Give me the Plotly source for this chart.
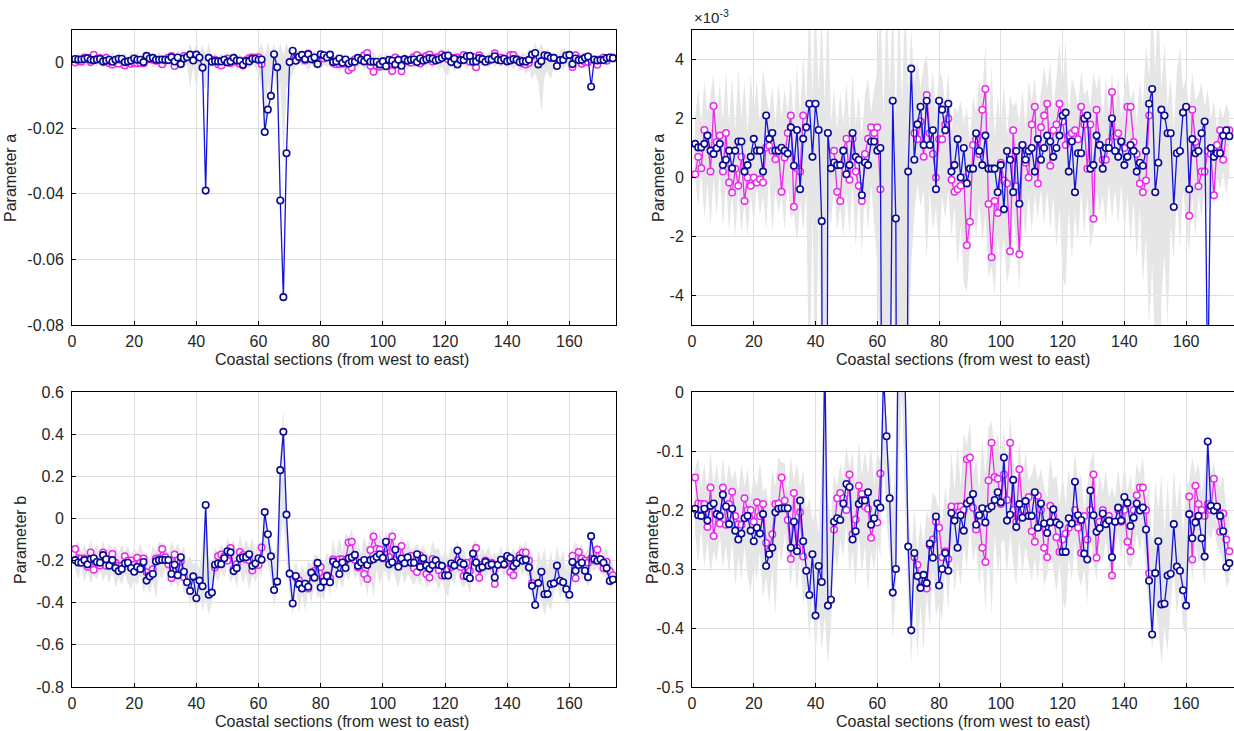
import plotly.graph_objects as go

# coastal sections 1..174
sections = list(range(1, 175))
N = None

# parameter a, in units of 1e-3
a_blue_e3 = [
    1.14, 1.02, 1.02, 1.14, 1.42, 0.91, 0.80, 0.99, 1.14, 0.42,
    0.60, 0.91, 0.31, 0.91, 1.22, 1.22, 0.20, 0.42, 0.70, 1.31,
    0.91, 0.91, 0.20, 2.10, 1.31, 1.51, 0.91, 0.91, 1.01, 0.91,
    0.81, 1.70, 0.40, 1.61, -0.40, 1.31, 1.70, 2.50, 0.70, 2.50,
    1.61, -1.48, -39.0, 1.51, 0.31, 0.51, 0.42, 0.42, 0.91, 0.11,
    0.42, 1.51, 0.70, 0.60, -0.60, 0.51, 0.42, 1.22, 1.22, 0.91,
    1.00, -21.1, -14.3, -10.1, 2.60, -1.39, -42.0, -71.5, -27.6, 0.20,
    3.69, 0.60, 1.80, 2.40, 1.10, 2.60, 1.10, 1.60, -0.40, 2.60,
    2.30, 1.60, 2.50, 0.20, 0.42, 1.30, 0.00, 1.00, -0.20, 0.30,
    0.30, 1.50, 0.90, 0.42, 1.42, 0.30, 0.30, 0.30, -0.50, 0.42,
    -1.08, 0.90, 0.60, -0.50, 0.90, -0.89, 1.10, 0.60, 0.90, 1.00,
    0.20, 1.30, 0.60, 1.00, 1.42, 1.22, 0.70, 1.00, 1.42, 2.10,
    2.20, 0.20, 1.22, -0.50, 0.82, 0.82, 2.00, 2.10, 0.30, 0.42,
    1.42, 1.10, 0.30, 1.00, 1.00, 2.00, 0.90, 0.70, 1.22, 0.42,
    0.70, 1.10, 0.90, 0.20, 0.50, 0.40, 0.90, 2.50, 3.00, -0.50,
    0.50, 2.30, 2.10, 1.50, 1.50, -1.00, 0.82, 0.90, 2.20, 2.40,
    -0.40, 1.30, 0.82, 0.90, 1.50, 1.90, -7.30, 1.00, 0.70, 0.82,
    0.82, 1.42, 1.60, 1.40,
]
a_magenta_e3 = [
    0.11, 0.70, 0.31, 1.61, 1.42, 0.20, 2.42, 1.20, 1.42, 0.20,
    1.51, -0.17, -0.51, 0.30, -0.28, 0.70, -0.80, 0.00, -0.28, 0.00,
    -0.17, -0.06, -0.17, 1.02, 1.08, 0.91, 0.62, 0.91, -0.48, 0.68,
    1.51, 2.10, -0.99, 0.31, 0.20, 2.10, N, N, N, N,
    N, N, N, N, N, 0.91, -0.48, -0.80, 0.91, 1.31,
    -0.08, 1.31, 0.20, -0.28, -0.80, 0.80, 1.31, 1.70, 1.51, 1.70,
    -0.40, N, N, N, N, N, N, N, N, N,
    N, 1.50, 1.30, 1.90, 0.70, 2.80, 1.50, 0.80, 0.00, 1.30,
    1.30, 1.80, 2.00, -0.08, -0.48, -0.40, -0.28, 0.00, -2.30, -1.50,
    1.10, 1.30, 0.80, 2.30, 3.00, -0.90, -2.70, -0.80, -1.20, 0.50,
    -0.10, -0.20, -2.50, 1.60, -0.30, -2.60, 1.10, 0.50, 0.00, 1.80,
    2.40, -0.20, 1.70, 2.10, 2.50, 0.40, 1.60, 1.80, 2.50, 1.90,
    1.10, 1.42, 1.50, 1.60, 1.30, 2.40, 1.80, 0.30, 1.80, -1.40,
    2.30, 1.10, 0.60, 0.60, 1.20, 2.90, 1.40, 1.50, 1.20, 1.00,
    2.40, 2.40, 1.20, 0.80, -0.20, -0.50, -0.10, 2.10, N, N,
    N, N, N, N, N, N, N, N, N, N,
    -1.30, 2.30, 1.20, -0.30, 0.20, 0.20, 0.90, 0.80, -0.60, 1.10,
    1.60, 0.60, 1.50, 1.60,
]
a_band_hi_e3 = [
    2.0, 3.0, 1.8, 3.3, 2.2, 2.9, 3.5, 2.0, 3.2, 1.9,
    3.6, 1.8, 3.4, 1.6, 3.7, 2.0, 3.3, 1.5, 3.5, 2.2,
    3.3, 1.8, 3.7, 2.8, 2.2, 3.1, 1.8, 3.2, 2.0, 3.0,
    2.2, 3.4, 1.8, 3.8, 2.0, 4.2, 2.4, 6.0, 2.8, 6.0,
    3.0, 5.5, 2.5, 6.0, 1.8, 3.0, 1.6, 2.9, 1.8, 3.2,
    1.6, 3.5, 1.8, 2.8, 1.4, 2.8, 3.4, 2.2, 3.0, 3.6,
    6.0, 2.0, 6.0, 3.0, 6.0, 2.0, 6.0, 2.5, 6.0, 3.0,
    5.0, 3.2, 4.0, 3.0, 3.8, 4.2, 2.6, 3.6, 2.2, 3.6,
    3.4, 2.4, 3.6, 1.6, 2.4, 2.2, 2.6, 1.8, 2.4, 1.2,
    2.8, 2.2, 3.3, 2.8, 4.5, 1.6, 3.8, 1.4, 2.8, 1.6,
    3.2, 1.4, 2.8, 2.4, 2.6, 1.8, 3.0, 1.6, 3.3, 2.6,
    3.4, 2.0, 3.0, 3.8, 3.0, 3.9, 2.2, 3.4, 4.6, 3.0,
    4.7, 2.0, 3.4, 3.0, 2.4, 3.6, 2.8, 3.0, 2.4, 3.6,
    3.0, 3.5, 2.0, 3.4, 2.2, 3.6, 2.2, 3.4, 2.0, 3.0,
    3.6, 2.6, 3.0, 1.8, 3.3, 2.4, 4.5, 3.4, 6.0, 3.6,
    6.0, 3.0, 4.6, 2.4, 3.4, 1.6, 3.6, 4.4, 3.0, 3.4,
    2.2, 3.6, 2.6, 2.8, 3.2, 2.4, 3.0, 2.0, 2.6, 1.6,
    2.4, 2.0, 2.5, 2.2,
]
a_band_lo_e3 = [
    0.0, -1.0, 0.2, -1.4, -0.2, -1.6, 0.0, -1.3, 0.3, -1.7,
    -0.2, -1.8, -0.6, -2.0, -0.4, -1.9, -0.8, -2.0, -0.5, -1.6,
    -0.2, -1.3, -0.6, -1.8, 0.2, -1.9, -0.4, -1.2, -0.6, -1.8,
    -0.2, -1.4, -1.2, -2.2, -0.8, -1.8, -0.5, -8.0, -1.0, -8.0,
    -1.0, -7.0, -8.0, -1.0, -1.6, -0.2, -1.8, -1.0, -2.0, -0.5,
    -1.9, -0.2, -2.4, -0.6, -2.6, -0.4, -1.8, -0.2, -1.6, -3.0,
    -8.0, -22.0, -6.0, -12.0, -3.0, -10.0, -6.0, -30.0, -8.0, -6.0,
    -3.0, -1.2, -0.2, -1.0, -0.4, -2.8, -0.4, -1.8, -1.0, -2.4,
    -0.6, -1.4, -0.4, -2.0, -1.0, -3.0, -1.6, -3.6, -3.9, -2.4,
    -1.0, -2.0, -0.8, -2.2, -1.2, -3.4, -3.0, -4.0, -2.0, -3.0,
    -2.0, -3.6, -3.0, -1.2, -2.2, -3.8, -1.0, -2.0, -0.6, -1.8,
    -0.6, -1.4, -0.4, -1.6, -0.4, -1.8, -0.6, -2.4, -1.0, -3.4,
    -3.7, -1.0, -2.8, -1.2, -2.2, -0.4, -2.0, -0.6, -2.4, -1.8,
    -0.4, -1.2, -0.6, -1.6, -0.2, -1.4, -0.4, -1.6, -0.2, -1.8,
    -0.6, -2.2, -0.8, -2.8, -1.0, -3.6, -2.0, -5.0, -3.0, -6.0,
    -15.0, -4.0, -2.6, -5.0, -1.6, -2.8, -0.6, -2.4, -0.4, -1.4,
    -2.6, -0.6, -2.0, -0.6, -1.4, -0.2, -1.2, -0.2, -1.0, 0.0,
    -0.4, 0.2, -0.6, 0.2,
]

# parameter b
b_blue = [
    -0.198, -0.209, -0.210, -0.198, -0.218, -0.193, -0.189, -0.207, -0.210, -0.174,
    -0.194, -0.224, -0.198, -0.235, -0.250, -0.240, -0.214, -0.210, -0.235, -0.253,
    -0.230, -0.240, -0.207, -0.295, -0.275, -0.264, -0.204, -0.198, -0.197, -0.197,
    -0.197, -0.264, -0.220, -0.270, -0.184, -0.253, -0.303, -0.344, -0.275, -0.379,
    -0.295, -0.322, 0.064, -0.362, -0.352, -0.220, -0.214, -0.217, -0.189, -0.156,
    -0.161, -0.250, -0.236, -0.190, -0.184, -0.184, -0.170, -0.225, -0.214, -0.189,
    -0.196, 0.030, -0.075, -0.180, -0.340, -0.300, 0.229, 0.411, 0.018, -0.262,
    -0.404, -0.273, -0.312, -0.332, -0.310, -0.324, -0.257, -0.281, -0.211, -0.328,
    -0.300, -0.273, -0.303, -0.205, -0.218, -0.264, -0.209, -0.235, -0.189, -0.184,
    -0.173, -0.225, -0.209, -0.197, -0.221, -0.198, -0.194, -0.183, -0.170, -0.187,
    -0.111, -0.218, -0.208, -0.149, -0.229, -0.190, -0.213, -0.185, -0.210, -0.210,
    -0.170, -0.230, -0.189, -0.223, -0.239, -0.221, -0.199, -0.221, -0.225, -0.271,
    -0.271, -0.214, -0.223, -0.152, -0.209, -0.217, -0.274, -0.284, -0.167, -0.209,
    -0.237, -0.231, -0.206, -0.224, -0.218, -0.280, -0.220, -0.196, -0.218, -0.178,
    -0.188, -0.227, -0.213, -0.189, -0.201, -0.196, -0.233, -0.320, -0.411, -0.307,
    -0.253, -0.360, -0.359, -0.311, -0.308, -0.224, -0.296, -0.303, -0.336, -0.362,
    -0.207, -0.248, -0.221, -0.210, -0.248, -0.279, -0.084, -0.193, -0.201, -0.194,
    -0.210, -0.236, -0.297, -0.290,
]
b_magenta = [
    -0.145, -0.189, -0.190, -0.190, -0.229, -0.162, -0.244, -0.207, -0.223, -0.162,
    -0.225, -0.190, -0.169, -0.210, -0.224, -0.225, -0.180, -0.200, -0.200, -0.220,
    -0.187, -0.210, -0.190, -0.256, -0.270, -0.241, -0.190, -0.189, -0.145, -0.184,
    -0.217, -0.283, -0.171, -0.264, -0.204, -0.279, N, N, N, N,
    N, N, N, N, N, -0.233, -0.180, -0.171, -0.180, -0.200,
    -0.140, -0.241, -0.216, -0.159, -0.173, -0.194, -0.198, -0.247, -0.220, -0.221,
    -0.138, N, N, N, N, N, N, N, N, N,
    N, -0.280, -0.293, -0.330, -0.310, -0.333, -0.260, -0.250, -0.220, -0.230,
    -0.280, -0.270, -0.283, -0.194, -0.210, -0.194, -0.194, -0.200, -0.114, -0.111,
    -0.196, -0.233, -0.220, -0.264, -0.288, -0.150, -0.086, -0.144, -0.147, -0.190,
    -0.140, -0.183, -0.086, -0.200, -0.220, -0.131, -0.200, -0.190, -0.178, -0.236,
    -0.254, -0.176, -0.200, -0.264, -0.280, -0.193, -0.210, -0.246, -0.271, -0.250,
    -0.240, -0.230, -0.220, -0.200, -0.230, -0.273, -0.210, -0.250, -0.200, -0.140,
    -0.281, -0.220, -0.200, -0.215, -0.210, -0.311, -0.220, -0.200, -0.220, -0.200,
    -0.254, -0.270, -0.200, -0.175, -0.162, -0.162, -0.200, -0.307, N, N,
    N, N, N, N, N, N, N, N, N, N,
    -0.177, -0.284, -0.159, -0.190, -0.200, -0.210, -0.190, -0.200, -0.147, -0.200,
    -0.237, -0.206, -0.250, -0.270,
]
b_band_hi = [
    -0.13, -0.11, -0.16, -0.12, -0.17, -0.10, -0.16, -0.12, -0.17, -0.11,
    -0.16, -0.12, -0.15, -0.13, -0.17, -0.12, -0.16, -0.13, -0.18, -0.14,
    -0.16, -0.12, -0.17, -0.16, -0.20, -0.13, -0.16, -0.11, -0.12, -0.12,
    -0.17, -0.11, -0.15, -0.12, -0.16, -0.13, -0.20, -0.18, -0.22, -0.20,
    -0.24, -0.12, 0.10, -0.18, -0.22, -0.14, -0.16, -0.12, -0.15, -0.09,
    -0.13, -0.10, -0.17, -0.08, -0.14, -0.10, -0.14, -0.09, -0.16, -0.10,
    -0.12, 0.06, -0.06, -0.12, -0.20, -0.10, 0.30, 0.52, 0.10, -0.20,
    -0.28, -0.20, -0.27, -0.22, -0.26, -0.20, -0.22, -0.17, -0.18, -0.20,
    -0.22, -0.16, -0.20, -0.10, -0.17, -0.09, -0.16, -0.07, -0.09, -0.05,
    -0.14, -0.11, -0.17, -0.08, -0.14, -0.06, -0.05, -0.10, -0.07, -0.12,
    -0.06, -0.13, -0.04, -0.11, -0.16, -0.08, -0.15, -0.10, -0.15, -0.14,
    -0.12, -0.15, -0.13, -0.16, -0.18, -0.11, -0.15, -0.14, -0.19, -0.14,
    -0.19, -0.13, -0.17, -0.10, -0.16, -0.14, -0.20, -0.16, -0.12, -0.10,
    -0.18, -0.14, -0.17, -0.13, -0.18, -0.16, -0.18, -0.13, -0.18, -0.12,
    -0.17, -0.14, -0.18, -0.12, -0.14, -0.11, -0.18, -0.16, -0.26, -0.15,
    -0.20, -0.14, -0.24, -0.15, -0.24, -0.13, -0.20, -0.15, -0.24, -0.16,
    -0.15, -0.11, -0.14, -0.12, -0.17, -0.14, -0.07, -0.14, -0.12, -0.15,
    -0.16, -0.14, -0.20, -0.21,
]
b_band_lo = [
    -0.24, -0.29, -0.23, -0.30, -0.25, -0.31, -0.27, -0.29, -0.24, -0.30,
    -0.26, -0.31, -0.25, -0.33, -0.28, -0.32, -0.26, -0.31, -0.34, -0.29,
    -0.32, -0.27, -0.35, -0.31, -0.36, -0.30, -0.38, -0.26, -0.29, -0.24,
    -0.28, -0.33, -0.27, -0.34, -0.28, -0.36, -0.33, -0.42, -0.34, -0.45,
    -0.36, -0.44, -0.38, -0.46, -0.40, -0.27, -0.30, -0.25, -0.28, -0.22,
    -0.31, -0.27, -0.33, -0.24, -0.31, -0.26, -0.34, -0.27, -0.30, -0.25,
    -0.28, -0.12, -0.22, -0.28, -0.42, -0.34, -0.12, 0.00, -0.20, -0.36,
    -0.46, -0.32, -0.45, -0.36, -0.44, -0.34, -0.40, -0.30, -0.38, -0.36,
    -0.39, -0.30, -0.37, -0.26, -0.34, -0.29, -0.33, -0.26, -0.30, -0.22,
    -0.29, -0.26, -0.33, -0.28, -0.37, -0.26, -0.38, -0.24, -0.31, -0.26,
    -0.25, -0.31, -0.24, -0.29, -0.33, -0.25, -0.31, -0.26, -0.29, -0.32,
    -0.28, -0.32, -0.26, -0.33, -0.31, -0.27, -0.30, -0.34, -0.29, -0.35,
    -0.37, -0.28, -0.32, -0.25, -0.31, -0.33, -0.30, -0.36, -0.24, -0.29,
    -0.32, -0.26, -0.29, -0.25, -0.29, -0.33, -0.26, -0.24, -0.28, -0.23,
    -0.29, -0.30, -0.28, -0.24, -0.27, -0.24, -0.30, -0.37, -0.44, -0.36,
    -0.40, -0.46, -0.40, -0.44, -0.36, -0.30, -0.38, -0.33, -0.40, -0.41,
    -0.27, -0.32, -0.26, -0.29, -0.28, -0.33, -0.24, -0.25, -0.23, -0.26,
    -0.27, -0.29, -0.33, -0.32,
]

for arr in (a_blue_e3, a_magenta_e3, a_band_hi_e3, a_band_lo_e3,
            b_blue, b_magenta, b_band_hi, b_band_lo):
    assert len(arr) == len(sections), len(arr)


def e3(vals):
    return [None if v is None else v * 1e-3 for v in vals]


a_blue = e3(a_blue_e3)
a_magenta = e3(a_magenta_e3)
a_band_hi = e3(a_band_hi_e3)
a_band_lo = e3(a_band_lo_e3)

W, H = 1234, 731
FONT = "Liberation Sans, Arial, sans-serif"
TXT = "rgb(38,38,38)"
BLUE = "rgb(20,20,215)"
BLUE_EDGE = "rgb(10,10,150)"
MAGENTA = "rgb(235,40,235)"
BAND = "rgb(230,230,230)"
GRID = "rgb(222,222,222)"


def px_x(p):
    return p / W


def px_y(p):
    return 1 - p / H


fig = go.Figure()

for suffix, which in [("", "a"), ("2", "a"), ("3", "b"), ("4", "b")]:
    xa, ya = "x" + suffix, "y" + suffix
    if which == "a":
        blue, mag, hi, lo = a_blue, a_magenta, a_band_hi, a_band_lo
    else:
        blue, mag, hi, lo = b_blue, b_magenta, b_band_hi, b_band_lo
    fig.add_trace(go.Scatter(
        x=sections + sections[::-1], y=hi + lo[::-1],
        fill="toself", fillcolor=BAND, line=dict(width=0),
        mode="lines", hoverinfo="skip", showlegend=False,
        xaxis=xa, yaxis=ya,
    ))
    fig.add_trace(go.Scatter(
        x=sections, y=mag, mode="lines+markers",
        line=dict(color=MAGENTA, width=1.3),
        marker=dict(symbol="circle", size=6.5, color="white",
                    line=dict(color=MAGENTA, width=1.5)),
        showlegend=False, xaxis=xa, yaxis=ya,
    ))
    fig.add_trace(go.Scatter(
        x=sections, y=blue, mode="lines+markers",
        line=dict(color=BLUE, width=1.3),
        marker=dict(symbol="circle", size=6.5, color="white",
                    line=dict(color=BLUE_EDGE, width=1.6)),
        showlegend=False, xaxis=xa, yaxis=ya,
    ))

x_left = [px_x(72), px_x(616)]
x_right = [px_x(692), 1.0]
y_top = [px_y(325), px_y(30)]
y_bot = [px_y(687), px_y(392)]

axis_common = dict(
    showline=True, linecolor="black", linewidth=1, mirror=True,
    showgrid=True, gridcolor=GRID, gridwidth=1, zeroline=False,
    ticks="inside", ticklen=4, tickcolor="black", automargin=False,
    tickfont=dict(family=FONT, size=16, color=TXT),
)
xticks = [0, 20, 40, 60, 80, 100, 120, 140, 160]


def xaxis(domain, anchor, xmax):
    return dict(axis_common, domain=domain, anchor=anchor, range=[0, xmax],
                tickvals=xticks, ticktext=[str(t) for t in xticks],
                ticklabelstandoff=2)


def yaxis(domain, anchor, rng, vals, text):
    return dict(axis_common, domain=domain, anchor=anchor, range=rng,
                tickvals=vals, ticktext=text, ticklabelstandoff=4)


fig.update_layout(
    width=W, height=H, autosize=False,
    margin=dict(l=0, r=0, t=0, b=0, autoexpand=False),
    paper_bgcolor="white", plot_bgcolor="white",
    font=dict(family=FONT, size=16, color=TXT),
    xaxis=xaxis(x_left, "y", 175),
    yaxis=yaxis(y_top, "x", [-0.08, 0.01],
                [-0.08, -0.06, -0.04, -0.02, 0],
                ["-0.08", "-0.06", "-0.04", "-0.02", "0"]),
    xaxis2=xaxis(x_right, "y2", 175.5),
    yaxis2=yaxis(y_top, "x2", [-0.005, 0.005],
                 [-0.004, -0.002, 0, 0.002, 0.004],
                 ["-4", "-2", "0", "2", "4"]),
    xaxis3=xaxis(x_left, "y3", 175),
    yaxis3=yaxis(y_bot, "x3", [-0.8, 0.6],
                 [-0.8, -0.6, -0.4, -0.2, 0, 0.2, 0.4, 0.6],
                 ["-0.8", "-0.6", "-0.4", "-0.2", "0", "0.2", "0.4", "0.6"]),
    xaxis4=xaxis(x_right, "y4", 175.5),
    yaxis4=yaxis(y_bot, "x4", [-0.5, 0],
                 [-0.5, -0.4, -0.3, -0.2, -0.1, 0],
                 ["-0.5", "-0.4", "-0.3", "-0.2", "-0.1", "0"]),
)

title_font = dict(family=FONT, size=16, color=TXT)
xtitle = "Coastal sections (from west to east)"
notes = [
    (px_x(342), px_y(359), xtitle, 0),
    (px_x(963), px_y(359), xtitle, 0),
    (px_x(342), px_y(721), xtitle, 0),
    (px_x(963), px_y(721), xtitle, 0),
    (px_x(11), px_y(178), "Parameter a", -90),
    (px_x(659), px_y(178), "Parameter a", -90),
    (px_x(20), px_y(540), "Parameter b", -90),
    (px_x(652), px_y(540), "Parameter b", -90),
]
for x, y, text, angle in notes:
    fig.add_annotation(x=x, y=y, xref="paper", yref="paper", text=text,
                       textangle=angle, showarrow=False, font=title_font,
                       xanchor="center", yanchor="middle")

fig.add_annotation(x=px_x(692), y=px_y(16), xref="paper", yref="paper",
                   text="\u00d710<sup>-3</sup>", showarrow=False,
                   font=dict(family=FONT, size=15, color=TXT),
                   xanchor="left", yanchor="middle")

# the page's default body margin would push the figure off the window
fig.write_html("out.html",
               config={"displayModeBar": False},
               post_script="document.body.style.margin='0';"
                           "document.body.style.overflow='hidden';")
